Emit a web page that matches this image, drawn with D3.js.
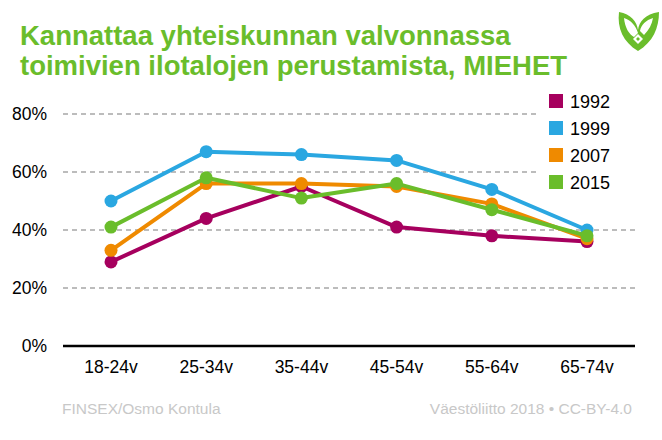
<!DOCTYPE html>
<html><head><meta charset="utf-8">
<script src="https://cdn.jsdelivr.net/npm/d3@7"></script>
<style>body{margin:0;background:#fff;}svg{display:block;font-family:"Liberation Sans",Arial,sans-serif;}</style>
</head><body><svg id="c" width="662" height="440"></svg>
<script>
const categories = ["18-24v","25-34v","35-44v","45-54v","55-64v","65-74v"];
const seriesNames = ["1992","1999","2007","2015"];
const v1992 = [29,44,55,41,38,36];
const v1999 = [50,67,66,64,54,40];
const v2007 = [33,56,56,55,49,37];
const v2015 = [41,58,51,56,47,38];
const yTicks = [0,20,40,60,80];
const colors = ["#a6005e","#2aa7e1","#ef8a00","#6abd2b"];
const titleLines = ["Kannattaa yhteiskunnan valvonnassa","toimivien ilotalojen perustamista, MIEHET"];

const svg = d3.select("#c");
const x = d3.scalePoint().domain(categories).range([111,587]);
const y = d3.scaleLinear().domain([0,80]).range([346,114]);

// grid
svg.append("g").selectAll("line").data(yTicks.filter(d=>d>0)).join("line")
  .attr("x1",63).attr("x2",635).attr("y1",d=>y(d)).attr("y2",d=>y(d))
  .attr("stroke","#a6a6a6").attr("stroke-width",1.3)
  .attr("stroke-dasharray","5,4");

// y labels
svg.append("g").selectAll("text").data(yTicks).join("text")
  .attr("x",47).attr("y",d=>y(d)+6).attr("text-anchor","end")
  .attr("font-size",17.5).attr("fill","#000").text(d=>d+"%");
// x labels
svg.append("g").selectAll("text").data(categories).join("text")
  .attr("x",d=>x(d)).attr("y",373).attr("text-anchor","middle")
  .attr("font-size",17.5).attr("fill","#000").text(d=>d);

const data = [v1992,v1999,v2007,v2015];
const line = d3.line().x((d,i)=>x(categories[i])).y(d=>y(d));
data.forEach((vals,si)=>{
  const g = svg.append("g");
  g.append("path").attr("d",line(vals)).attr("fill","none")
    .attr("stroke",colors[si]).attr("stroke-width",4).attr("stroke-linejoin","round");
  g.selectAll("circle").data(vals).join("circle")
    .attr("cx",(d,i)=>x(categories[i])).attr("cy",d=>y(d)).attr("r",6.5).attr("fill",colors[si]);
});

// zero baseline
svg.append("line").attr("x1",63).attr("x2",635).attr("y1",y(0)).attr("y2",y(0))
  .attr("stroke","#000").attr("stroke-width",2.5);

// legend with white background
svg.append("rect").attr("x",536).attr("y",88).attr("width",126).attr("height",108).attr("fill","#fff");
const lg = svg.append("g").selectAll("g").data(seriesNames).join("g")
  .attr("transform",(d,i)=>`translate(549,${94+i*27})`);
lg.append("rect").attr("width",14).attr("height",14).attr("fill",(d,i)=>colors[i]);
lg.append("text").attr("x",21).attr("y",14).attr("font-size",18).attr("fill","#000").text(d=>d);

// title
svg.append("g").selectAll("text").data(titleLines).join("text")
  .attr("x",20).attr("y",(d,i)=>45+i*30).attr("font-size",27.5).attr("font-weight","bold")
  .attr("fill","#6abd2b").text(d=>d);

// footer
svg.append("text").attr("x",62).attr("y",414).attr("font-size",15.5).attr("fill","#c8c8c8").text("FINSEX/Osmo Kontula");
svg.append("text").attr("x",632).attr("y",414).attr("text-anchor","end").attr("font-size",15.5).attr("fill","#c8c8c8").text("Väestöliitto 2018 • CC-BY-4.0");

// logo
const logo = svg.append("g").attr("transform","translate(617,10)").attr("fill","#6abd2b");
logo.append("path").attr("fill-rule","evenodd").attr("d",
  "M2,2 C14,4 20,12 21,20 C22,12 28,4 42,2 C42,18 36,32 21,41 C6,32 0,18 2,2 Z " +
  "M7,8 C8,18 12,24 17,27 L21,23 C19,16 14,10 7,8 Z " +
  "M36,8 C29,10 24,15 23,21 L27,25 C32,20 35,14 36,8 Z");
logo.append("path").attr("fill","#fff").attr("d","M21,24 L26,29 L21,34 L16,29 Z");
logo.append("path").attr("d","M21,27 L23,29 L21,31 L19,29 Z");
</script></body></html>
